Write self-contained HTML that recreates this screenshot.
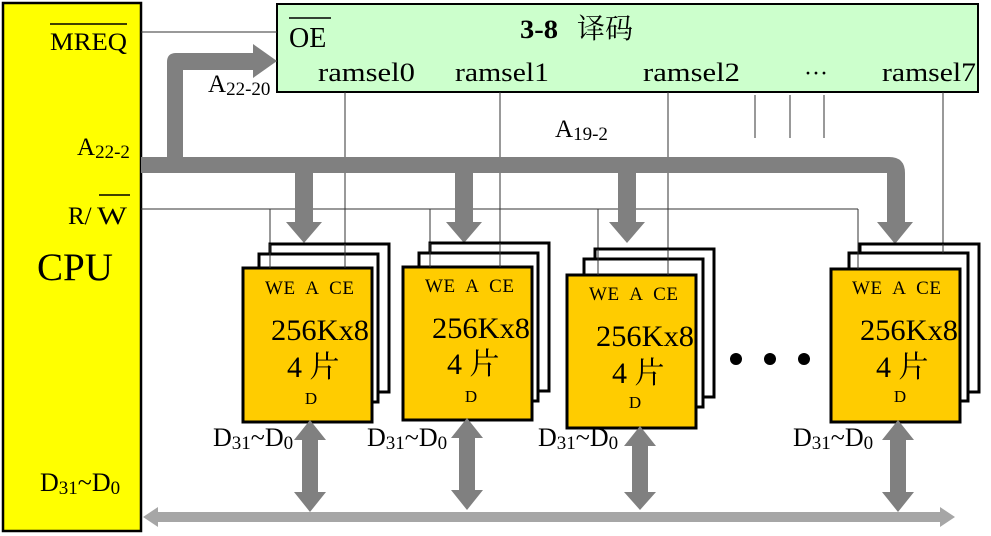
<!DOCTYPE html>
<html><head><meta charset="utf-8"><style>
html,body{margin:0;padding:0;background:#fff;}
svg{display:block;font-family:"Liberation Serif","Times New Roman","DejaVu Serif","Noto Serif CJK SC",serif;}
svg text{font-family:"Liberation Serif","Times New Roman","DejaVu Serif","Noto Serif CJK SC",serif;fill:#000;white-space:pre;}
</style></head><body>
<svg width="991" height="536" viewBox="0 0 991 536" xmlns="http://www.w3.org/2000/svg">
<!-- CPU -->
<rect x="3" y="3" width="138" height="528" fill="#ffff00" stroke="#000" stroke-width="2.5"/>
<text x="127" y="50" font-size="25" text-anchor="end" textLength="77" lengthAdjust="spacingAndGlyphs">MREQ</text>
<line x1="50" y1="24" x2="127" y2="24" stroke="#000" stroke-width="1.5"/>
<text x="77" y="155" font-size="25">A<tspan font-size="19" dy="3">22-2</tspan></text>
<text x="68" y="224" font-size="25">R/</text>
<text x="97" y="224" font-size="25" textLength="30" lengthAdjust="spacingAndGlyphs">W</text>
<line x1="99" y1="195" x2="130" y2="195" stroke="#000" stroke-width="1.5"/>
<text x="37" y="280" font-size="39" textLength="76" lengthAdjust="spacingAndGlyphs">CPU</text>
<text x="40" y="491" font-size="26">D<tspan font-size="19" dy="3">31</tspan><tspan dy="-3">~D</tspan><tspan font-size="19" dy="3">0</tspan></text>

<!-- decoder -->
<rect x="277" y="4" width="701" height="88" fill="#ccffcc" stroke="#000" stroke-width="2"/>
<text x="289" y="47" font-size="28">OE</text>
<line x1="289" y1="18" x2="331" y2="18" stroke="#000" stroke-width="1.5"/>
<text x="520" y="38" font-size="26" font-weight="bold" textLength="38" lengthAdjust="spacingAndGlyphs">3-8</text>
<text x="577" y="38" font-size="28">译码</text>
<text x="318" y="81" font-size="26" textLength="97" lengthAdjust="spacingAndGlyphs">ramsel0</text>
<text x="455" y="81" font-size="26" textLength="94" lengthAdjust="spacingAndGlyphs">ramsel1</text>
<text x="643" y="81" font-size="26" textLength="97" lengthAdjust="spacingAndGlyphs">ramsel2</text>
<text x="804" y="81" font-size="24">···</text>
<text x="882" y="81" font-size="26" textLength="94" lengthAdjust="spacingAndGlyphs">ramsel7</text>

<!-- thin lines -->
<g stroke="#333" stroke-width="1" fill="none">
<line x1="141" y1="32" x2="277" y2="32"/>
<line x1="141" y1="209" x2="858" y2="209"/>
<line x1="270" y1="209" x2="270" y2="268"/>
<line x1="430" y1="209" x2="430" y2="268"/>
<line x1="598" y1="209" x2="598" y2="275"/>
<line x1="858" y1="209" x2="858" y2="269"/>
<line x1="345" y1="92" x2="345" y2="268"/>
<line x1="500" y1="92" x2="500" y2="268"/>
<line x1="668" y1="92" x2="668" y2="275"/>
<line x1="943" y1="92" x2="943" y2="252"/>
<line x1="755" y1="95" x2="755" y2="138"/>
<line x1="790" y1="95" x2="790" y2="138"/>
<line x1="824" y1="95" x2="824" y2="138"/>
</g>

<!-- address bus -->
<g fill="#808080">
<path d="M141 157 H889 Q905 157 905 173 V222 H913 L895 244 L877 222 H887 V173 H141 Z"/>
<path d="M167 165 V62 Q167 53 176 53 H253 V44 L277 61 L253 78 V70 H183 V165 Z"/>
<path d="M295 170 V222 H286 L304 243 L322 222 H313 V170 Z"/>
<path d="M455 170 V222 H446 L464 243 L482 222 H473 V170 Z"/>
<path d="M618 170 V222 H609 L627 243 L645 222 H636 V170 Z"/>
</g>
<text x="208" y="92" font-size="25">A<tspan font-size="19" dy="3">22-20</tspan></text>
<text x="555" y="137" font-size="25">A<tspan font-size="19" dy="3">19-2</tspan></text>

<!-- chips -->
<g stroke="#000" stroke-width="3">
<rect x="270" y="244" width="119" height="148" fill="#fff"/>
<rect x="259" y="254" width="119" height="148" fill="#fff"/>
<rect x="243" y="268" width="129" height="154" fill="#ffcc00"/>
<rect x="430" y="243" width="119" height="148" fill="#fff"/>
<rect x="419" y="253" width="119" height="148" fill="#fff"/>
<rect x="403" y="267" width="129" height="153" fill="#ffcc00"/>
<rect x="595" y="249" width="119" height="148" fill="#fff"/>
<rect x="584" y="259" width="119" height="148" fill="#fff"/>
<rect x="567" y="275" width="129" height="153" fill="#ffcc00"/>
<rect x="860" y="244" width="119" height="148" fill="#fff"/>
<rect x="849" y="253" width="119" height="148" fill="#fff"/>
<rect x="831" y="269" width="129" height="153" fill="#ffcc00"/>
</g>
<g stroke="#333" stroke-width="1">
<line x1="270" y1="244" x2="270" y2="268"/><line x1="345" y1="244" x2="345" y2="268"/>
<line x1="430" y1="243" x2="430" y2="267"/><line x1="500" y1="243" x2="500" y2="267"/>
<line x1="598" y1="249" x2="598" y2="275"/><line x1="668" y1="249" x2="668" y2="275"/>
<line x1="858" y1="244" x2="858" y2="269"/><line x1="943" y1="244" x2="943" y2="253"/>
</g>
<g font-size="19">
<text x="265" y="294" textLength="89" lengthAdjust="spacing">WE  A  CE</text>
<text x="425" y="292" textLength="89" lengthAdjust="spacing">WE  A  CE</text>
<text x="589" y="300" textLength="89" lengthAdjust="spacing">WE  A  CE</text>
<text x="852" y="294" textLength="89" lengthAdjust="spacing">WE  A  CE</text>
</g>
<g font-size="30">
<text x="271" y="340" textLength="98" lengthAdjust="spacingAndGlyphs">256Kx8</text>
<text x="432" y="338" textLength="98" lengthAdjust="spacingAndGlyphs">256Kx8</text>
<text x="596" y="346" textLength="98" lengthAdjust="spacingAndGlyphs">256Kx8</text>
<text x="860" y="340" textLength="98" lengthAdjust="spacingAndGlyphs">256Kx8</text>
<text x="287" y="377">4 片</text>
<text x="447" y="374">4 片</text>
<text x="612" y="383">4 片</text>
<text x="876" y="377">4 片</text>
</g>
<g font-size="17" text-anchor="middle">
<text x="311" y="404">D</text>
<text x="471" y="402">D</text>
<text x="635" y="408">D</text>
<text x="900" y="402">D</text>
</g>
<g fill="#000"><circle cx="736" cy="359" r="6"/><circle cx="770" cy="359" r="6"/><circle cx="804" cy="359" r="6"/></g>

<!-- data arrows -->
<g fill="#808080">
<path d="M310 420 L326 440 H318 V492 H326 L310 512 L294 492 H302 V440 H294 Z"/>
<path d="M467 418 L483 438 H475 V490 H483 L467 510 L451 490 H459 V438 H451 Z"/>
<path d="M640 426 L656 446 H648 V492 H656 L640 510 L624 492 H632 V446 H624 Z"/>
<path d="M898 420 L914 440 H906 V492 H914 L898 512 L882 492 H890 V440 H882 Z"/>
</g>
<path d="M143 517 L158 507 V512 H940 V507 L955 517 L940 527 V522 H158 V527 Z" fill="#a6a6a6"/>
<g font-size="26">
<text x="213" y="446">D<tspan font-size="19" dy="3">31</tspan><tspan dy="-3">~D</tspan><tspan font-size="19" dy="3">0</tspan></text>
<text x="367" y="446">D<tspan font-size="19" dy="3">31</tspan><tspan dy="-3">~D</tspan><tspan font-size="19" dy="3">0</tspan></text>
<text x="538" y="446">D<tspan font-size="19" dy="3">31</tspan><tspan dy="-3">~D</tspan><tspan font-size="19" dy="3">0</tspan></text>
<text x="793" y="446">D<tspan font-size="19" dy="3">31</tspan><tspan dy="-3">~D</tspan><tspan font-size="19" dy="3">0</tspan></text>
</g>
</svg>
</body></html>
